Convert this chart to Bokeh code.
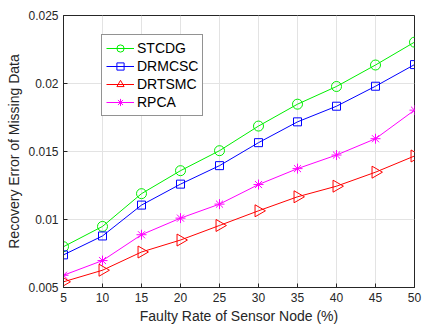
from bokeh.plotting import figure
from bokeh.models import Range1d, FixedTicker, Legend, LegendItem
from bokeh.embed import file_html
from bokeh.resources import INLINE

# ---- data ----
x_rate = [5, 10, 15, 20, 25, 30, 35, 40, 45, 50]
stcdg  = [0.0080, 0.00949, 0.0119, 0.01359, 0.01506, 0.01687, 0.01848, 0.01978, 0.02136, 0.02304]
drmcsc = [0.0074, 0.00879, 0.01106, 0.0126, 0.01396, 0.01565, 0.01718, 0.01833, 0.0198, 0.02139]
drtsmc = [0.00542, 0.00627, 0.00761, 0.00849, 0.00956, 0.01064, 0.01167, 0.01245, 0.01348, 0.01467]
rpca   = [0.0059, 0.00698, 0.00888, 0.0101, 0.01113, 0.01257, 0.01374, 0.01474, 0.01594, 0.01804]

series_names = ["STCDG", "DRMCSC", "DRTSMC", "RPCA"]
x_ticks = [5, 10, 15, 20, 25, 30, 35, 40, 45, 50]
y_ticks = [0.005, 0.01, 0.015, 0.02, 0.025]
y_tick_labels = ["0.005", "0.01", "0.015", "0.02", "0.025"]
x_label = "Faulty Rate of Sensor Node (%)"
y_label = "Recovery Error of Missing Data"

FONT = "Liberation Sans"
TXT = "#262626"

p = figure(width=422, height=326, output_backend="svg", toolbar_location=None,
           x_range=Range1d(5, 50), y_range=Range1d(0.005, 0.025),
           min_border_left=63, min_border_right=8, min_border_top=15, min_border_bottom=38)
p.outline_line_color = TXT
p.outline_line_width = 1
p.background_fill_color = "white"
p.border_fill_color = "white"

for ax in (p.xaxis[0], p.yaxis[0]):
    ax.major_tick_in = 4
    ax.major_tick_out = 0
    ax.minor_tick_in = 0
    ax.minor_tick_out = 0
    ax.axis_line_color = TXT
    ax.major_tick_line_color = TXT
    ax.major_label_text_font = FONT
    ax.major_label_text_font_size = "12px"
    ax.major_label_text_color = TXT
    ax.axis_label_text_font = FONT
    ax.axis_label_text_font_size = "14px"
    ax.axis_label_text_font_style = "normal"
    ax.axis_label_text_color = TXT
    ax.major_label_standoff = 5
    ax.axis_label_standoff = 3

p.xaxis[0].ticker = FixedTicker(ticks=x_ticks)
p.yaxis[0].ticker = FixedTicker(ticks=y_ticks)
p.yaxis[0].major_label_overrides = {t: l for t, l in zip(y_ticks, y_tick_labels)}
p.xaxis[0].axis_label = x_label
p.yaxis[0].axis_label = y_label

p.xgrid[0].ticker = FixedTicker(ticks=x_ticks)
p.ygrid[0].ticker = FixedTicker(ticks=y_ticks)
for g in (p.xgrid[0], p.ygrid[0]):
    g.grid_line_color = "#e3e3e3"
    g.grid_line_width = 1

styles = [
    (stcdg, "#00ee00", "circle", 10, 0),
    (drmcsc, "#0000ff", "square", 8, 0),
    (drtsmc, "#ff0000", "triangle", 12, -90),
    (rpca, "#ff00ff", "asterisk", 10, 0),
]

items = []
for name, (ys, col, mk, sz, ang) in zip(series_names, styles):
    ln = p.line(x_rate, ys, line_color=col, line_width=1)
    sc = p.scatter(x_rate, ys, marker=mk, size=sz, angle=ang, angle_units="deg",
                   line_color=col, fill_color=None, line_width=1)
    items.append(LegendItem(label=name, renderers=[ln, sc]))

legend = Legend(items=items, location=(38, 171))
legend.border_line_color = TXT
legend.border_line_width = 1
legend.background_fill_color = "white"
legend.background_fill_alpha = 1
legend.label_text_font = FONT
legend.label_text_font_size = "14px"
legend.label_text_color = "black"
legend.padding = 4
legend.spacing = 0
legend.margin = 0
legend.glyph_width = 28
legend.glyph_height = 18
legend.label_height = 18
legend.label_standoff = 3
p.add_layout(legend, "center")

open("out.html", "w").write(file_html(p, INLINE))
